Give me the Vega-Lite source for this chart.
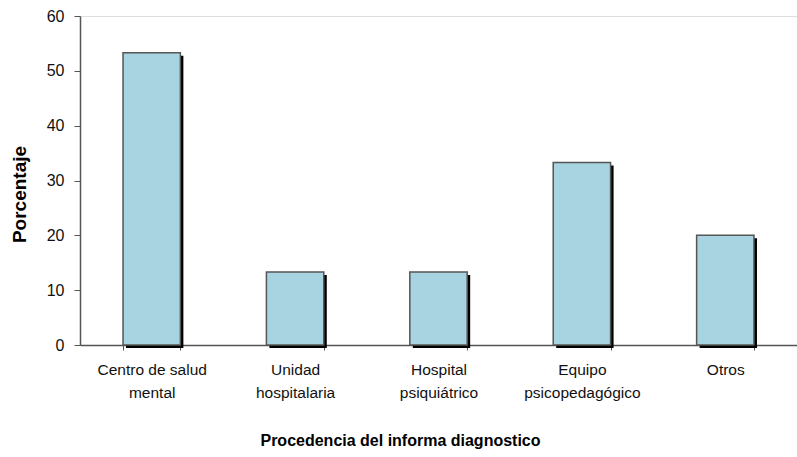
{
  "$schema": "https://vega.github.io/schema/vega-lite/v6.json",
  "autosize": "none",
  "padding": {"left": 80, "top": 16, "right": 0, "bottom": 112},
  "width": 717,
  "height": 329,
  "background": "white",
  "data": {
    "values": [
      {"cat": "Centro de salud|mental", "pct": 53.3},
      {"cat": "Unidad|hospitalaria", "pct": 13.3},
      {"cat": "Hospital|psiquiátrico", "pct": 13.3},
      {"cat": "Equipo|psicopedagógico", "pct": 33.3},
      {"cat": "Otros", "pct": 20}
    ]
  },
  "encoding": {
    "x": {
      "field": "cat", "type": "nominal", "sort": null,
      "scale": {"paddingInner": 0.6, "paddingOuter": 0.3},
      "axis": {
        "title": "Procedencia del informa diagnostico",
        "titleFont": "Liberation Sans", "titleFontSize": 16, "titleFontWeight": "bold",
        "titleColor": "black", "titlePadding": 32, "titleX": 320, "titleAlign": "center",
        "labelAngle": 0, "labelFont": "Liberation Sans", "labelFontSize": 15.5, "labelColor": "#111",
        "labelExpr": "split(datum.label, '|')", "labelLineHeight": 23, "labelPadding": 12,
        "labelBaseline": "top",
        "tickBand": "extent", "tickSize": 5, "tickColor": "#555", "domainColor": "#555", "domainWidth": 1.5
      }
    },
    "y": {
      "field": "pct", "type": "quantitative",
      "scale": {"domain": [0, 60]},
      "axis": {
        "title": "Porcentaje", "titleFont": "Liberation Sans", "titleFontSize": 19, "titleFontWeight": "bold",
        "titleColor": "black", "titlePadding": 17, "titleY": 178, "titleAlign": "center",
        "values": [0, 10, 20, 30, 40, 50, 60], "grid": false,
        "labelFont": "Liberation Sans", "labelFontSize": 16, "labelColor": "#111", "labelPadding": 10,
        "tickSize": 6, "tickColor": "#555", "domainColor": "#555", "domainWidth": 1.5
      }
    }
  },
  "layer": [
    {"mark": {"type": "bar", "color": "black", "xOffset": 3, "yOffset": 3}},
    {"mark": {"type": "bar", "color": "#A8D4E2", "stroke": "#555", "strokeWidth": 1.5}}
  ]
}
